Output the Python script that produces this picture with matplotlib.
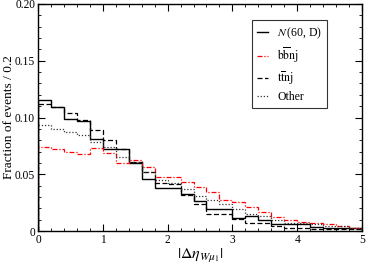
import numpy as np
import matplotlib
matplotlib.use("Agg")
import matplotlib.pyplot as plt
from matplotlib.ticker import MultipleLocator

plt.rcParams['font.family'] = ['Liberation Serif', 'DejaVu Serif']
plt.rcParams['mathtext.fontset'] = 'stix'

bin_edges = np.linspace(0, 5, 26)

signal = [0.115, 0.109, 0.099, 0.097, 0.081, 0.072, 0.072, 0.060, 0.046, 0.038,
          0.038, 0.033, 0.026, 0.019, 0.019, 0.0115, 0.0135, 0.0097, 0.006, 0.006,
          0.006, 0.0032, 0.003, 0.003, 0.003]
bbnj = [0.0737, 0.072, 0.070, 0.068, 0.073, 0.069, 0.060, 0.0625, 0.056, 0.048,
        0.048, 0.043, 0.039, 0.034, 0.0276, 0.0253, 0.0209, 0.0165, 0.012, 0.010,
        0.0082, 0.0068, 0.0062, 0.0047, 0.003]
ttnj = [0.112, 0.109, 0.104, 0.098, 0.089, 0.080, 0.072, 0.061, 0.052, 0.042,
        0.041, 0.032, 0.024, 0.015, 0.015, 0.0106, 0.0068, 0.0068, 0.0047, 0.0024,
        0.0024, 0.002, 0.002, 0.0015, 0.0015]
other = [0.093, 0.090, 0.087, 0.085, 0.078, 0.074, 0.065, 0.061, 0.052, 0.045,
         0.042, 0.037, 0.031, 0.027, 0.0235, 0.019, 0.015, 0.0135, 0.0097, 0.0073,
         0.0073, 0.006, 0.0047, 0.004, 0.003]

labels = [r'$N\,$(60, D)', r'$\mathrm{b}\overline{\mathrm{b}}\mathrm{nj}$',
          r'$\mathrm{t}\overline{\mathrm{t}}\mathrm{nj}$', 'Other']

fig = plt.figure(figsize=(3.66, 2.67), dpi=100)
ax = fig.add_axes([38/366, 1 - 231/267, (362-38)/366, (231-4)/267])

ax.stairs(signal, bin_edges, color='black', lw=1.0, ls='-', label=labels[0])
ax.stairs(bbnj, bin_edges, color='red', lw=0.9, ls=(0, (4, 1.5, 1, 1.5)), label=labels[1])
ax.stairs(ttnj, bin_edges, color='black', lw=0.9, ls=(0, (4, 2)), label=labels[2])
ax.stairs(other, bin_edges, color='#333333', lw=0.9, ls=(0, (1, 1.5)), label=labels[3])

ax.set_xlim(0, 5)
ax.set_ylim(0, 0.2)
ax.xaxis.set_major_locator(MultipleLocator(1))
ax.xaxis.set_minor_locator(MultipleLocator(0.2))
ax.yaxis.set_minor_locator(MultipleLocator(0.01))
ax.set_yticks([0, 0.05, 0.10, 0.15, 0.20])
ax.set_yticklabels(['0', '0.05', '0.10', '0.15', '0.20'])
ax.tick_params(which='both', direction='in', top=True, right=True, labelsize=8.3, pad=2)
ax.tick_params(which='major', length=5, width=0.8)
ax.tick_params(which='minor', length=2.5, width=0.6)
for s in ax.spines.values():
    s.set_linewidth(1.0)

ax.set_ylabel('Fraction of events / 0.2', fontsize=9.6)
ax.yaxis.set_label_coords(-0.071, 0.5)
ax.set_xlabel(r'$|\Delta\eta_{W\mu_1}|$', fontsize=11.5, labelpad=1)

leg = ax.legend(loc='upper left', fontsize=8.5,
                frameon=True, fancybox=False, edgecolor='black', handlelength=0.9,
                handletextpad=0.8, borderpad=0.45, labelspacing=0.35, borderaxespad=0)
leg.set_bbox_to_anchor((214/324, 1 - 16/227), transform=ax.transAxes)
leg.get_frame().set_linewidth(0.8)

fig.savefig('out.png', dpi=100)
